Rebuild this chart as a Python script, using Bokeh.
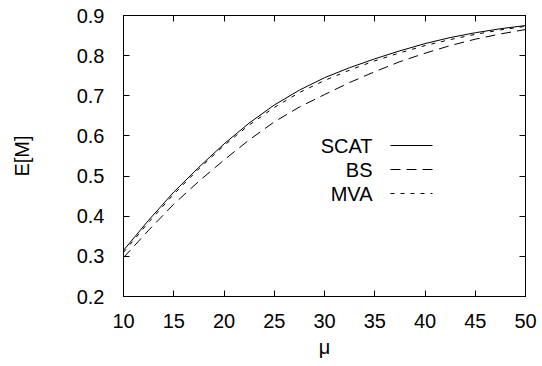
from bokeh.plotting import figure
from bokeh.models import LinearAxis, Range1d, FixedTicker, Label, Arrow
from bokeh.embed import file_html
from bokeh.resources import INLINE

mu = [10, 12.5, 15, 17.5, 20, 22.5, 25, 27.5, 30, 32.5, 35, 37.5, 40, 42.5, 45, 47.5, 50]
scat = [0.315, 0.390, 0.460, 0.522, 0.580, 0.632, 0.677, 0.714, 0.745, 0.770, 0.792, 0.812, 0.830, 0.845, 0.857, 0.867, 0.875]
bs = [0.297, 0.365, 0.430, 0.487, 0.540, 0.590, 0.635, 0.672, 0.703, 0.733, 0.760, 0.785, 0.806, 0.825, 0.841, 0.854, 0.865]
mva = [0.310, 0.385, 0.455, 0.518, 0.576, 0.627, 0.671, 0.708, 0.738, 0.764, 0.787, 0.807, 0.825, 0.840, 0.853, 0.864, 0.873]
series_names = ["SCAT", "BS", "MVA"]
x_ticks = [10, 15, 20, 25, 30, 35, 40, 45, 50]
y_ticks = [0.2, 0.3, 0.4, 0.5, 0.6, 0.7, 0.8, 0.9]

FONT = "Liberation Sans"
FS = "20px"

p = figure(output_backend="svg", toolbar_location=None,
           frame_width=402, frame_height=281,
           min_border_left=123, min_border_right=12, min_border_top=15, min_border_bottom=66,
           x_range=Range1d(10, 50), y_range=Range1d(0.2, 0.9),
           x_axis_label="μ", y_axis_label="E[M]")
p.grid.visible = False
p.outline_line_color = "black"
p.outline_line_width = 1
p.background_fill_color = "white"
p.border_fill_color = "white"

for ax, ticks in ((p.xaxis[0], x_ticks), (p.yaxis[0], y_ticks)):
    ax.ticker = FixedTicker(ticks=ticks)
    ax.major_tick_in = 6
    ax.major_tick_out = 0
    ax.minor_tick_line_color = None
    ax.axis_line_color = "black"
    ax.major_tick_line_color = "black"
    ax.major_label_text_font = FONT
    ax.major_label_text_font_size = FS
    ax.major_label_text_color = "black"
    ax.axis_label_text_font = FONT
    ax.axis_label_text_font_size = FS
    ax.axis_label_text_font_style = "normal"
    ax.axis_label_text_color = "black"

p.yaxis[0].major_label_standoff = 19
p.xaxis[0].major_label_standoff = 17
p.xaxis[0].axis_label_standoff = 5
p.yaxis[0].axis_label_standoff = 41

# mirrored ticks on top and right (gnuplot style), drawn as label-less minor ticks
for ticks, side in ((x_ticks, "above"), (y_ticks, "right")):
    ax = LinearAxis(ticker=FixedTicker(ticks=[], minor_ticks=ticks),
                    major_tick_line_color=None, major_label_standoff=0,
                    minor_tick_in=6, minor_tick_out=0, minor_tick_line_color="black",
                    axis_line_color="black")
    p.add_layout(ax, side)

dashes = ["solid", "10 6", "4 6"]
for ys, d in zip([scat, bs, mva], dashes):
    p.line(mu, ys, line_color="black", line_width=1, line_dash=d)

# gnuplot-style key: text right-aligned, sample on the right
key_rows = [151, 127, 103]
for name, d, sy in zip(series_names, dashes, key_rows):
    p.add_layout(Label(x=249, y=sy, x_units="screen", y_units="screen", text=name,
                       text_align="right", text_baseline="middle",
                       text_font=FONT, text_font_size=FS, text_color="black"))
    p.add_layout(Arrow(x_start=267, y_start=sy, x_end=309, y_end=sy,
                       start_units="screen", end_units="screen",
                       start=None, end=None, line_color="black", line_width=1, line_dash=d))

open("out.html", "w").write(file_html(p, INLINE))
